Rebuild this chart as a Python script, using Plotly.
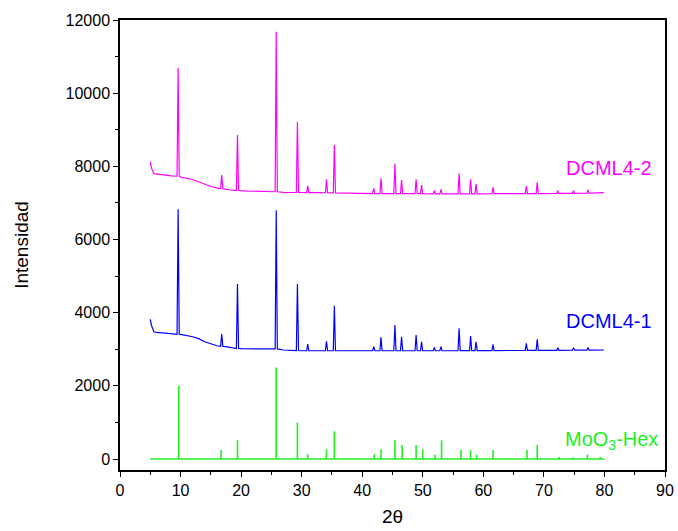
import plotly.graph_objects as go

# ---------------- data ----------------
# DCML4-2 (magenta) background anchors
m_bg_x = [5.0, 5.2, 5.6, 6.5, 7.5, 8.5, 9.2, 10.2, 11.5, 13.0, 14.0, 15.0, 16.3, 18.0, 19.0, 21.0, 23.0, 25.1, 27.0, 30.0, 32.7, 38.1, 45.0, 55.0, 65.0, 72.0, 79.9]
m_bg_y = [8125, 7950, 7800, 7790, 7760, 7740, 7730, 7700, 7660, 7580, 7520, 7450, 7398, 7360, 7340, 7325, 7315, 7306, 7290, 7285, 7279, 7261, 7255, 7250, 7255, 7260, 7279]
# DCML4-2 peaks: position, top, base level
m_pk_x = [9.6, 16.8, 19.4, 25.8, 29.3, 31.0, 34.1, 35.4, 41.9, 43.1, 45.4, 46.5, 48.9, 49.8, 51.9, 53.0, 56.0, 57.9, 58.8, 61.6, 67.1, 68.9, 72.3, 74.9, 77.3]
m_pk_top = [10695, 7760, 8855, 11680, 9220, 7470, 7645, 8580, 7398, 7671, 8080, 7625, 7644, 7489, 7333, 7371, 7808, 7644, 7516, 7425, 7461, 7562, 7333, 7333, 7352]
m_pk_base = [7730, 7390, 7340, 7306, 7285, 7282, 7278, 7275, 7255, 7255, 7255, 7255, 7252, 7252, 7250, 7250, 7250, 7250, 7250, 7252, 7255, 7255, 7260, 7262, 7268]

# DCML4-1 (blue) background anchors
b_bg_x = [5.0, 5.2, 5.6, 6.0, 7.5, 9.0, 10.2, 12.0, 13.0, 14.0, 16.0, 17.5, 20.0, 25.0, 27.0, 30.0, 34.0, 40.0, 50.0, 60.0, 70.0, 79.9]
b_bg_y = [3818, 3650, 3480, 3460, 3440, 3416, 3398, 3343, 3290, 3206, 3097, 3070, 3015, 3015, 2980, 2960, 2960, 2960, 2960, 2965, 2970, 2980]
# DCML4-1 peaks
b_pk_x = [9.6, 16.8, 19.4, 25.8, 29.3, 31.0, 34.1, 35.4, 41.9, 43.1, 45.4, 46.5, 48.9, 49.8, 51.9, 53.0, 56.0, 57.9, 58.8, 61.6, 67.1, 68.9, 72.3, 74.9, 77.3]
b_pk_top = [6824, 3416, 4783, 6800, 4783, 3143, 3216, 4190, 3070, 3325, 3662, 3343, 3389, 3206, 3052, 3070, 3571, 3361, 3206, 3134, 3161, 3270, 3043, 3043, 3052]
b_pk_base = [3410, 3080, 3020, 3010, 2965, 2962, 2960, 2960, 2960, 2960, 2960, 2960, 2960, 2960, 2960, 2960, 2962, 2962, 2962, 2965, 2968, 2970, 2972, 2975, 2978]

# MoO3-Hex reference sticks
g_x = [9.7, 16.7, 19.4, 25.8, 29.3, 31.0, 34.1, 35.4, 42.0, 43.1, 45.4, 46.6, 48.9, 50.0, 52.0, 53.1, 56.3, 57.9, 58.9, 61.6, 67.2, 68.9, 72.5, 74.8, 77.2, 79.3]
g_h = [2000, 250, 510, 2500, 1000, 130, 264, 756, 128, 264, 510, 383, 380, 260, 120, 510, 250, 250, 120, 250, 250, 380, 55, 50, 120, 55]
g_start, g_end = 5.0, 80.0

HALF_W = 0.18  # half width of drawn peaks (deg)


def build_curve(bg_x, bg_y, pk_x, pk_top, pk_base):
    pts = list(zip(bg_x, bg_y))
    pts = [p for p in pts if all(abs(p[0] - c) > HALF_W for c in pk_x)]
    for c, t, b in zip(pk_x, pk_top, pk_base):
        pts += [(c - HALF_W, b), (c, t), (c + HALF_W, b)]
    pts.sort(key=lambda p: p[0])
    return [p[0] for p in pts], [p[1] for p in pts]


mx, my = build_curve(m_bg_x, m_bg_y, m_pk_x, m_pk_top, m_pk_base)
bx, by = build_curve(b_bg_x, b_bg_y, b_pk_x, b_pk_top, b_pk_base)

gx, gy = [g_start], [0]
for p, h in zip(g_x, g_h):
    gx += [p, p, p]
    gy += [0, h, 0]
gx.append(g_end)
gy.append(0)

MAG = "#FF00FF"
BLU = "#0000FF"
GRN = "#22EE22"

fig = go.Figure()
fig.add_trace(go.Scatter(x=gx, y=gy, mode="lines", line=dict(color=GRN, width=1.6), hoverinfo="skip"))
fig.add_trace(go.Scatter(x=bx, y=by, mode="lines", line=dict(color=BLU, width=1.2)))
fig.add_trace(go.Scatter(x=mx, y=my, mode="lines", line=dict(color=MAG, width=1.2)))

font_family = "Liberation Sans, Arial, sans-serif"
fig.add_annotation(x=80.7, y=7950, text="DCML4-2", showarrow=False, xanchor="center", yanchor="middle",
                   font=dict(color=MAG, size=20, family=font_family))
fig.add_annotation(x=80.7, y=3760, text="DCML4-1", showarrow=False, xanchor="center", yanchor="middle",
                   font=dict(color=BLU, size=20, family=font_family))
fig.add_annotation(x=81.2, y=520, text="MoO<sub>3</sub>-Hex", showarrow=False, xanchor="center", yanchor="middle",
                   font=dict(color=GRN, size=20, family=font_family))

axis_common = dict(
    showgrid=False, zeroline=False, showline=True, linecolor="black", linewidth=1.5,
    mirror=True, ticks="outside", ticklen=5, tickwidth=1.2, tickcolor="black",
    tickfont=dict(size=16, family=font_family, color="black"),
    exponentformat="none", separatethousands=False, automargin=False,
)
fig.update_xaxes(range=[0, 90], dtick=10, tick0=0, tickformat="d",
                 minor=dict(dtick=5, ticks="outside", ticklen=3, tickcolor="black"),
                 title=dict(text="2θ", font=dict(size=19, family=font_family, color="black"), standoff=12),
                 **axis_common)
fig.update_yaxes(range=[-300, 12000], dtick=2000, tick0=0, tickformat="d",
                 minor=dict(dtick=1000, ticks="outside", ticklen=3, tickcolor="black"),
                 title=dict(text="Intensidad", font=dict(size=19, family=font_family, color="black"), standoff=32),
                 **axis_common)

fig.update_layout(
    width=678, height=531,
    margin=dict(l=120, r=13, t=20, b=61),
    paper_bgcolor="white", plot_bgcolor="white",
    showlegend=False,
)

fig.write_html("out.html")
